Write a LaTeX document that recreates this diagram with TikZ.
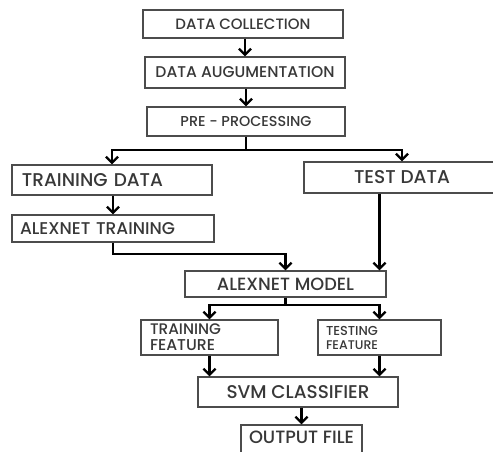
\documentclass[tikz,border=0pt]{standalone}
\usepackage{graphicx}
\usepackage{fontspec}
\setmainfont{Poppins}[BoldFont={Poppins Medium}]
\usetikzlibrary{arrows.meta}
\tikzset{
  box/.style={draw=black!70, line width=1.4pt, text=black!78, inner ysep=0pt, align=center, font=\bfseries},
  lbox/.style={box, align=left},
  arr/.style={draw=black, line width=2.4pt, -{Straight Barb[length=6pt,width=12pt,line width=2.2pt]}},
  ln/.style={draw=black, line width=2.4pt},
}
\newcommand{\tw}[2]{\resizebox{#1pt}{!}{#2}}
\begin{document}
\begin{tikzpicture}[x=1pt,y=-1pt]
\useasboundingbox (0,0) rectangle (493,452);
\fill[white] (0,0) rectangle (493,452);
\node[box, minimum width=200, minimum height=28] (dc) at (243,24) {\tw{135}{DATA COLLECTION}};
\node[box, minimum width=200, minimum height=31] (da) at (245,72.5) {\tw{179}{DATA AUGUMENTATION}};
\node[box, minimum width=198, minimum height=29] (pp) at (246,121.5) {\tw{131}{PRE - PROCESSING}};
\node[lbox, minimum width=200, minimum height=30, inner xsep=10pt, text width=180pt] (td) at (112,180) {\tw{141}{TRAINING DATA}};
\node[box, minimum width=196, minimum height=31] (te) at (402,177.5) {\tw{96}{TEST DATA}};
\node[lbox, minimum width=202, minimum height=27, inner xsep=8pt, text width=186pt] (at) at (113,228.5) {\tw{155}{ALEXNET TRAINING}};
\node[box, minimum width=201, minimum height=26] (am) at (285.5,284) {\tw{137}{ALEXNET MODEL}};
\node[lbox, minimum width=137, minimum height=35, inner xsep=9pt, text width=119pt, font=\bfseries\fontsize{10}{16}\selectfont] (tf) at (209.5,337.5) {\tw{71}{TRAINING}\\\tw{65}{FEATURE}};
\node[lbox, minimum width=123, minimum height=35, inner xsep=8pt, text width=107pt, font=\bfseries\fontsize{10}{14}\selectfont] (tef) at (379.5,337.5) {\tw{52}{TESTING}\\\tw{52}{FEATURE}};
\node[box, minimum width=200, minimum height=30] (svm) at (298,392) {\tw{143}{SVM CLASSIFIER}};
\node[box, minimum width=121, minimum height=30, text depth=5pt] (out) at (301.5,440) {\tw{105}{OUTPUT FILE}};

\draw[arr] (dc.south -| da.north) -- (da.north);
\draw[arr] (da.south -| pp.north) -- (pp.north);
\coordinate (s1) at (pp.south |- 0,150);
\draw[ln] (pp.south) -- (s1);
\draw[arr] (s1) -| (td.north);
\draw[arr] (s1) -| (te.north);
\draw[arr] (td.south -| at.north) -- (at.north);
\coordinate (s2) at (at.south |- 0,254);
\draw[arr] (at.south) -- (s2) -| (am.north);
\draw[arr] (te.south -| tef.north) -- (am.north -| tef.north);
\coordinate (s3) at (am.south |- 0,305);
\draw[ln] (am.south) -- (s3);
\draw[arr] (s3) -| (tf.north);
\draw[arr] (s3) -| (tef.north);
\draw[arr] (tf.south) -- (tf.south |- svm.north);
\draw[arr] (tef.south) -- (tef.south |- svm.north);
\draw[arr] (svm.south -| out.north) -- (out.north);
\end{tikzpicture}
\end{document}
